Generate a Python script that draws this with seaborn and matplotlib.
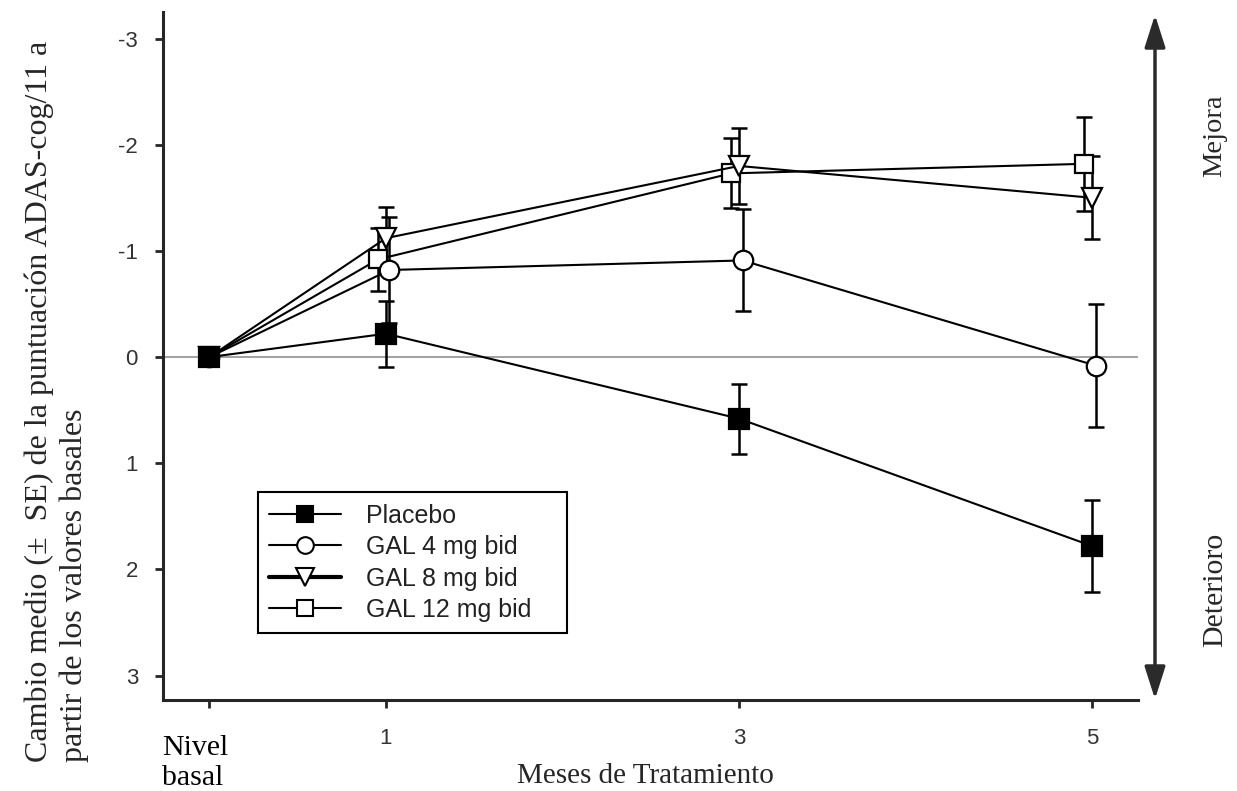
import numpy as np
import matplotlib
matplotlib.use("Agg")
import matplotlib.pyplot as plt
from matplotlib.lines import Line2D
from matplotlib.patches import FancyArrowPatch
from matplotlib.transforms import ScaledTranslation
import seaborn as sns

# data
months = [0, 1, 3, 5]
month_labels = ["Nivel\nbasal", "1", "3", "5"]
series_names = ["Placebo", "GAL 4 mg bid", "GAL 8 mg bid", "GAL 12 mg bid"]
placebo = [0.0, -0.22, 0.58, 1.78]
placebo_se = [0.0, 0.31, 0.33, 0.43]
gal4 = [0.0, -0.82, -0.91, 0.08]
gal4_se = [0.0, 0.50, 0.48, 0.58]
gal8 = [0.0, -1.12, -1.80, -1.50]
gal8_se = [0.0, 0.29, 0.36, 0.39]
gal12 = [0.0, -0.92, -1.73, -1.82]
gal12_se = [0.0, 0.30, 0.33, 0.44]
y_ticks = [-3, -2, -1, 0, 1, 2, 3]

sns.set_style("ticks")
plt.rcParams["font.family"] = ["Liberation Sans", "DejaVu Sans"]
SERIF = ["Liberation Serif", "DejaVu Serif"]

fig = plt.figure(figsize=(12.37, 7.91), dpi=100)
ax = fig.add_axes([163 / 1237, 1 - 700 / 791, 975 / 1237, 688 / 791])

ax.axhline(0, color="#9a9a9a", lw=1.3, zorder=1)

styles = [
    # marker, size, face, x shift
    ("s", 14, "black", 0.0),
    ("o", 14, "white", 0.02),
    ("v", 15, "white", 0.0),
    ("s", 13, "white", -0.045),
]
values = [placebo, gal4, gal8, gal12]
errors = [placebo_se, gal4_se, gal8_se, gal12_se]

# draw in reverse so the placebo sits on top at baseline
for i in reversed(range(len(series_names))):
    vals, se = values[i], errors[i]
    mk, ms, fc, dx = styles[i]
    xs = np.array(months, dtype=float) + np.where(np.array(months) > 0, dx, 0)
    ax.errorbar(xs[1:], vals[1:], yerr=se[1:], fmt="none", ecolor="black",
                elinewidth=1.8, capsize=6, capthick=1.8, zorder=2)
    sns.lineplot(x=xs, y=vals, ax=ax, color="black", lw=1.5, marker=mk,
                 markersize=ms, markerfacecolor=fc, markeredgecolor="black",
                 markeredgewidth=1.6, zorder=3 + (3 - i) * 0.1, legend=False)

ax.set_xlim(-0.263, 5.26)
ax.set_ylim(3.23, -3.25)
ax.set_yticks(y_ticks)
ax.set_yticklabels([str(t) for t in y_ticks])
ax.set_xticks(months)
ax.set_xticklabels(month_labels)

for s in ["top", "right"]:
    ax.spines[s].set_visible(False)
for s in ["left", "bottom"]:
    ax.spines[s].set_linewidth(2.2)
ax.tick_params(axis="both", length=6, width=2, labelsize=16, labelcolor="#333333")
ax.tick_params(axis="y", pad=12)
ax.tick_params(axis="x", pad=14)

lab0 = ax.get_xticklabels()[0]
lab0.set_fontfamily(SERIF)
lab0.set_fontsize(21.5)
lab0.set_color("black")
lab0.set_multialignment("left")
lab0.set_horizontalalignment("left")
lab0.set_transform(lab0.get_transform() + ScaledTranslation(-0.47, -0.07, fig.dpi_scale_trans))

fig.text(645 / 1237, 1 - 776 / 791, "Meses de Tratamiento", ha="center", va="center",
         family=SERIF, fontsize=21)

fig.text(24 / 1237, 1 - 762 / 791,
         "Cambio medio (±  SE) de la puntuación ADAS-cog/11 a\npartir de los valores basales",
         rotation=90, rotation_mode="anchor", ha="left", va="top",
         multialignment="left", family=SERIF, fontsize=23, linespacing=1.28)

fig.text(1215 / 1237, 1 - 136 / 791, "Mejora", rotation=90, ha="center",
         va="center", family=SERIF, fontsize=20.5)
fig.text(1215 / 1237, 1 - 590 / 791, "Deterioro", rotation=90, ha="center",
         va="center", family=SERIF, fontsize=21.5)

arrow = FancyArrowPatch((1155 / 1237, 1 - 702 / 791), (1155 / 1237, 1 - 12 / 791),
                        transform=fig.transFigure, arrowstyle="<|-|>,head_length=1.1,head_width=0.35",
                        mutation_scale=18, color="#2b2b2b", lw=2.5)
fig.patches.append(arrow)

handles = []
for name, (mk, ms, fc, dx) in zip(series_names, styles):
    lw = 3 if name == "GAL 8 mg bid" else 1.5
    handles.append(Line2D([], [], color="black", lw=lw, marker=mk, markersize=ms - 2,
                          markerfacecolor=fc, markeredgecolor="black", markeredgewidth=1.5))
leg = ax.legend(handles, series_names, loc="lower left",
                bbox_to_anchor=(0.097, 0.097, 0.317, 0.25), mode="expand",
                fontsize=18, handlelength=2.9, handletextpad=1.0, labelspacing=0.3,
                borderpad=0.45, borderaxespad=0, fancybox=False, framealpha=1,
                edgecolor="black")
leg.get_frame().set_linewidth(1.5)
for t in leg.get_texts():
    t.set_color("#222222")

fig.savefig("out.png", dpi=100)
